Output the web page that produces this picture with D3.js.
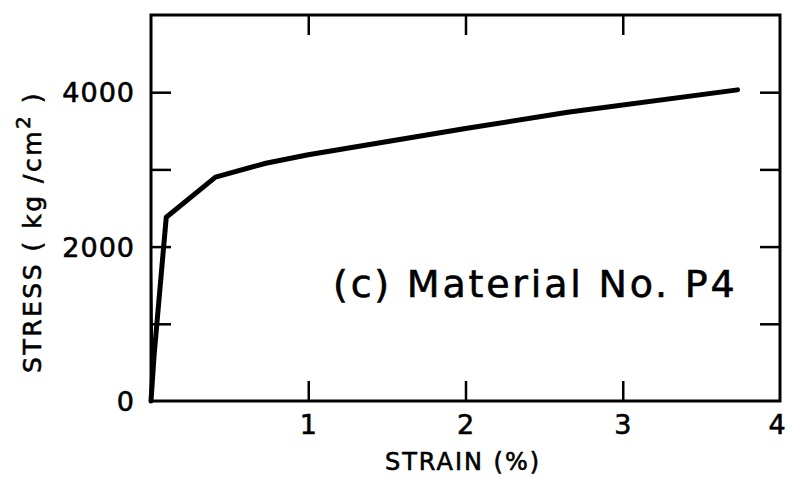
<!DOCTYPE html>
<html><head><meta charset="utf-8">
<script src="https://cdn.jsdelivr.net/npm/d3@7"></script>
<style>body{margin:0;background:#fff}svg{display:block}text{font-family:"DejaVu Sans",sans-serif;fill:#000;stroke:#000;stroke-width:0.6}</style>
</head><body><svg id="c" width="789" height="479"></svg>
<script>
const strain = [0, 0.02, 0.097, 0.41, 0.73, 1.0, 2.0, 2.65, 3.73];
const stress = [0, 600, 2380, 2900, 3080, 3190, 3530, 3740, 4030];
const thinStrain = [0.01, 0.0];
const thinStress = [600, 1950];
const xTicks = [1, 2, 3];
const yTicks = [1000, 2000, 3000, 4000];
const xLabels = [1, 2, 3, 4];
const yLabels = [0, 2000, 4000];

const svg = d3.select("#c");
const m = {l:151, r:780, t:15, b:401};
const x = d3.scaleLinear().domain([0,4]).range([m.l, m.r]);
const y = d3.scaleLinear().domain([0,5000]).range([m.b, m.t]);

// frame
svg.append("rect").attr("x",m.l).attr("y",m.t).attr("width",m.r-m.l).attr("height",m.b-m.t)
  .attr("fill","none").attr("stroke","#000").attr("stroke-width",3);

// inward ticks
const tk = 20;
function styleTicks(g){ g.select(".domain").remove(); g.selectAll("line").attr("stroke","#000").attr("stroke-width",2.5); }
svg.append("g").attr("transform",`translate(0,${m.b})`)
  .call(d3.axisTop(x).tickValues(xTicks).tickSize(tk).tickFormat("")).call(styleTicks);
svg.append("g").attr("transform",`translate(0,${m.t})`)
  .call(d3.axisBottom(x).tickValues(xTicks).tickSize(tk).tickFormat("")).call(styleTicks);
svg.append("g").attr("transform",`translate(${m.l},0)`)
  .call(d3.axisRight(y).tickValues(yTicks).tickSize(tk).tickFormat("")).call(styleTicks);
svg.append("g").attr("transform",`translate(${m.r},0)`)
  .call(d3.axisLeft(y).tickValues(yTicks).tickSize(tk).tickFormat("")).call(styleTicks);

// tick labels
svg.selectAll(".xl").data(xLabels).enter().append("text")
  .attr("x",d=>d===4 ? x(d)-3 : x(d)).attr("y",m.b+33).attr("text-anchor","middle")
  .attr("font-size",27).text(d=>d);
svg.selectAll(".yl").data(yLabels).enter().append("text")
  .attr("x",m.l-16).attr("y",d=>y(d)+10).attr("text-anchor","end")
  .attr("font-size",27).attr("letter-spacing",1).text(d=>d);

// axis titles
svg.append("text").attr("x",463).attr("y",470).attr("text-anchor","middle")
  .attr("font-size",24).attr("letter-spacing",2).text("STRAIN (%)");
const yt = svg.append("text").attr("transform","translate(41,232) rotate(-90)")
  .attr("text-anchor","middle").attr("font-size",25).attr("letter-spacing",2.5);
yt.append("tspan").text("STRESS ( kg /cm");
yt.append("tspan").attr("font-size",20).attr("dy",-11).text("2");
yt.append("tspan").attr("dy",11).text(" )");

// annotation
svg.append("text").attr("x",333).attr("y",297).attr("font-size",38).attr("letter-spacing",2.8).text("(c) Material No. P4");

// curves
const line = d3.line().x(d=>x(d[0])).y(d=>y(d[1]));
svg.append("path").datum(strain.map((s,i)=>[s,stress[i]])).attr("d",line)
  .attr("fill","none").attr("stroke","#000").attr("stroke-width",5).attr("stroke-linejoin","round").attr("stroke-linecap","round");
svg.append("path").datum(thinStrain.map((s,i)=>[s,thinStress[i]])).attr("d",line)
  .attr("fill","none").attr("stroke","#000").attr("stroke-width",1.5);
</script></body></html>
